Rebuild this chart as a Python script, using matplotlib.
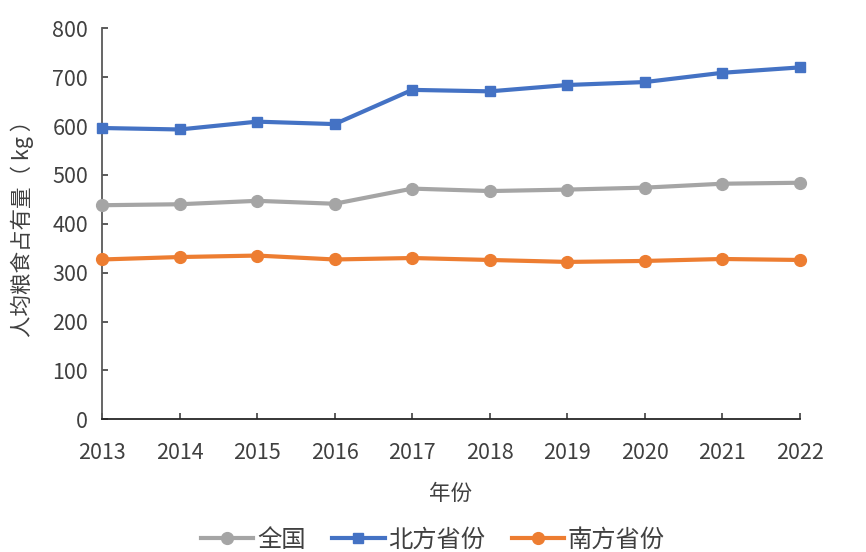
import matplotlib
matplotlib.use("Agg")
import matplotlib.pyplot as plt

plt.rcParams['font.family'] = ['Noto Sans CJK SC', 'DejaVu Sans']

years = [2013, 2014, 2015, 2016, 2017, 2018, 2019, 2020, 2021, 2022]
national = [438, 440, 447, 441, 472, 467, 470, 474, 482, 484]
north = [596, 593, 609, 604, 674, 671, 684, 690, 709, 720]
south = [327, 332, 335, 327, 330, 326, 322, 324, 328, 326]
series_names = ['全国', '北方省份', '南方省份']

fig = plt.figure(figsize=(8.66, 5.52), dpi=100)
ax = fig.add_axes([102/866, 1-419.3/552, (800-102)/866, (419.3-28.3)/552])

lw = 3.0
ax.plot(years, national, color='#A5A5A5', lw=lw, marker='o', markersize=8.5, label=series_names[0], clip_on=False, zorder=3)
ax.plot(years, north, color='#4472C4', lw=lw, marker='s', markersize=7.5, label=series_names[1], clip_on=False, zorder=3)
ax.plot(years, south, color='#ED7D31', lw=lw, marker='o', markersize=8.5, label=series_names[2], clip_on=False, zorder=3)

ax.set_xlim(2013, 2022)
ax.set_ylim(0, 800)
ax.set_xticks(years)
ax.set_xticklabels([str(y) for y in years])
ax.set_yticks(range(0, 801, 100))

for s in ['top', 'right']:
    ax.spines[s].set_visible(False)
ax.spines['left'].set_color('#595959')
ax.spines['bottom'].set_color('#262626')
for s in ['left', 'bottom']:
    ax.spines[s].set_linewidth(1.3)

ax.tick_params(axis='both', direction='in', colors='#404040', labelcolor='#404040',
               labelsize=15.5, length=4, width=1.2)
ax.tick_params(axis='x', pad=16)
ax.tick_params(axis='y', pad=10)

ax.set_xlabel('年份', fontsize=15.5, color='#404040', labelpad=14)
ax.set_ylabel('人均粮食占有量（ kg ）', fontsize=15.5, color='#404040', labelpad=13)

fig.legend(loc='center', bbox_to_anchor=(0.5, 1-540/552), ncol=3, frameon=False,
           fontsize=17.5, handlelength=2.15, columnspacing=1.1, handletextpad=0.15,
           labelcolor='#404040')

fig.savefig('out.png', dpi=100)
